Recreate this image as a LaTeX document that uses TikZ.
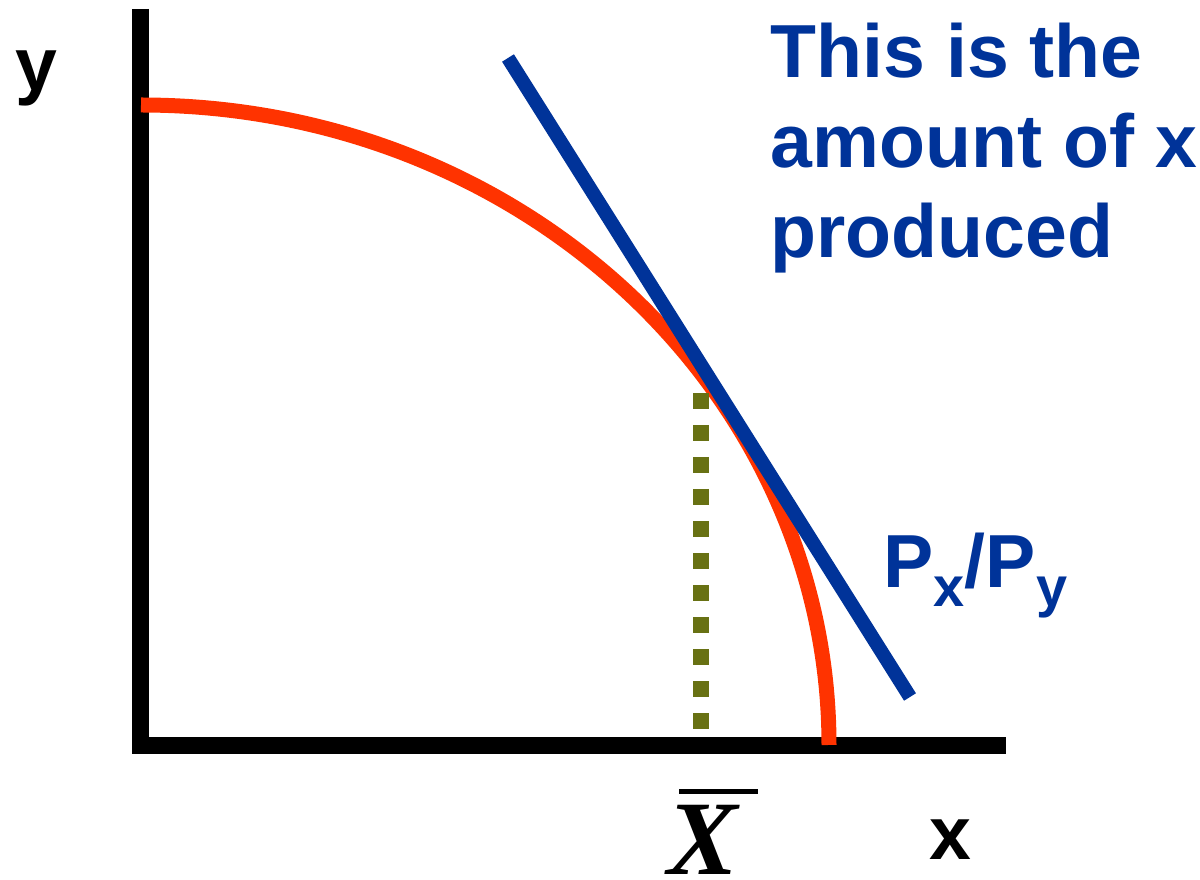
\documentclass[tikz,border=0pt]{standalone}
\usepackage{fontspec}
\setmainfont{Liberation Serif}
\setsansfont{Liberation Sans}
\usetikzlibrary{positioning}
\definecolor{ppfRed}  {HTML}{FF3300}
\definecolor{priceBlu}{HTML}{003399}
\definecolor{olive}   {HTML}{687113}
\tikzset{
  axis/.style={line width=0.17cm, black},
  lbl/.style={inner sep=0pt, font=\fontsize{21.4}{25.6}\selectfont\sffamily\bfseries},
}
\begin{document}
\begin{tikzpicture}
 \useasboundingbox (0,0) rectangle (12,8.8);
 % axes
 \coordinate (ytop) at (1.405,8.71);
 \coordinate (ybot) at (1.405,1.26);
 \coordinate (xl) at (1.32,1.345);
 \coordinate (xr) at (10.06,1.345);
 \draw[axis] (ytop) -- (ybot);
 \draw[axis] (xl) -- (xr);
 % production possibility frontier
 \coordinate (ppfTop) at (1.41,7.75);
 \draw[ppfRed, line width=0.15cm] (ppfTop) arc[start angle=90, end angle=0, x radius=6.88, y radius=6.40];
 % price line
 \coordinate (pA) at (5.08,8.22);
 \coordinate (pB) at (9.10,1.83);
 \draw[priceBlu, line width=0.14cm] (pA) -- (pB);
 % amount of x
 \coordinate (xTan) at (7.01,4.87);
 \coordinate (xFoot) at (7.01,1.51);
 \draw[olive, line width=0.16cm, dash pattern=on 0.16cm off 0.16cm] (xTan) -- (xFoot);
 % labels
 \node[lbl, anchor=base west] (ylab) at (0.15,7.89) {y};
 \node[lbl, anchor=base west] (xlab) at (9.29,0.20) {x};
 \node[inner sep=0pt, anchor=base, font=\fontsize{30.1}{36}\selectfont\bfseries\itshape] (xbar) at (7.03,0.05)
   {\rlap{\kern0.11em\raisebox{0.77em}{\rule{0.74em}{0.04em}}}X};
 \node[lbl, text=priceBlu, anchor=base west] (ratio) at (8.83,2.92)
   {P\raisebox{-0.25em}{\fontsize{15.9}{18}\selectfont x}/P\raisebox{-0.25em}{\fontsize{15.9}{18}\selectfont y}};
 \node[lbl, text=priceBlu, anchor=north west, align=left] (note) at (7.70,8.58)
   {This is the\\ amount of x\\ produced};
\end{tikzpicture}
\end{document}
